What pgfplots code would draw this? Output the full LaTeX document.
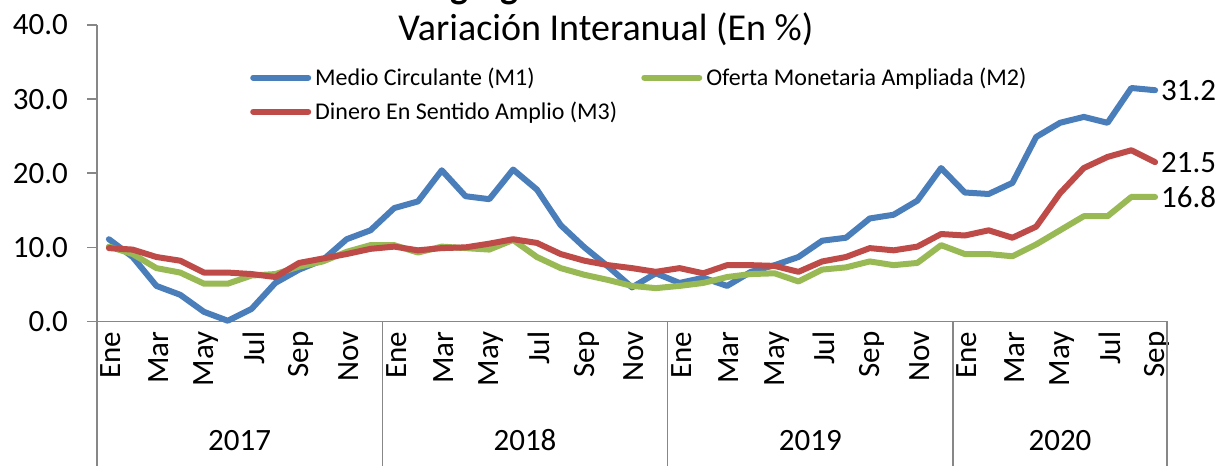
\documentclass[border=0pt]{standalone}
\usepackage{pgfplots}
\pgfplotsset{compat=1.18}
\usepackage{fontspec}
\setmainfont{Carlito}
\definecolor{m1}{HTML}{4A7EBB}
\definecolor{m2}{HTML}{98B954}
\definecolor{m3}{HTML}{BE4B48}
\definecolor{axgray}{HTML}{878787}
\begin{document}
\begin{tikzpicture}[x=1bp,y=1bp]
\begin{axis}[
  at={(97bp,144.5bp)}, anchor=south west,
  scale only axis, width=1070bp, height=296.5bp,
  xmin=-0.5, xmax=44.5, ymin=0, ymax=40,
  clip=false,
  axis lines=left,
  axis line style={draw=axgray, line width=1.6bp, -},
  tick align=outside,
  major tick length=10bp,
  tick style={draw=axgray, line width=1.6bp},
  ytick={0,10,20,30,40},
  yticklabels={0.0,10.0,20.0,30.0,40.0},
  yticklabel style={font=\fontsize{31bp}{37bp}\selectfont, inner sep=0pt, xshift=-19bp},
  xtick={0,2,...,44},
  xticklabels={Ene,Mar,May,Jul,Sep,Nov,Ene,Mar,May,Jul,Sep,Nov,Ene,Mar,May,Jul,Sep,Nov,Ene,Mar,May,Jul,Sep},
  xtick style={draw=none},
  xticklabel style={font=\fontsize{31bp}{37bp}\selectfont, rotate=90, anchor=east, inner xsep=0pt, inner ysep=0pt, yshift=-2bp},
  legend columns=2,
  legend cell align=left,
  legend style={at={(0.143,0.862)}, anchor=north west, draw=none, fill=none, inner sep=0pt,
    font=\fontsize{24bp}{28bp}\selectfont, row sep=11bp,
    nodes={inner ysep=2bp, inner xsep=4bp},
    /tikz/every even column/.append style={column sep=20bp}},
  legend image code/.code={\draw[#1] (0bp,0bp) -- (55bp,0bp);},
  every axis plot/.append style={line width=6bp, line join=round, line cap=round},
]
\draw[axgray, line width=1.6bp] (axis cs:-0.5,0) -- ++(0bp,-160bp);
\draw[axgray, line width=1.6bp] (axis cs:11.5,0) -- ++(0bp,-160bp);
\draw[axgray, line width=1.6bp] (axis cs:23.5,0) -- ++(0bp,-160bp);
\draw[axgray, line width=1.6bp] (axis cs:35.5,0) -- ++(0bp,-160bp);
\draw[axgray, line width=1.6bp] (axis cs:44.5,0) -- ++(0bp,-160bp);
\addplot[m1] coordinates {
(0,11.1) (1,8.7) (2,4.8) (3,3.6) (4,1.3) (5,0.1) (6,1.7) (7,5.2) (8,7.0) (9,8.3) (10,11.1) (11,12.3)
(12,15.3) (13,16.2) (14,20.4) (15,16.9) (16,16.5) (17,20.5) (18,17.8) (19,13.0) (20,10.0) (21,7.4) (22,4.6) (23,6.5)
(24,5.2) (25,5.9) (26,4.8) (27,6.7) (28,7.6) (29,8.7) (30,10.9) (31,11.3) (32,13.9) (33,14.4) (34,16.3) (35,20.7)
(36,17.4) (37,17.2) (38,18.7) (39,24.9) (40,26.8) (41,27.6) (42,26.8) (43,31.5) (44,31.2)};
\addlegendentry{Medio Circulante (M1)}
\addplot[m2] coordinates {
(0,10.1) (1,9.1) (2,7.2) (3,6.6) (4,5.1) (5,5.1) (6,6.2) (7,6.4) (8,7.4) (9,8.1) (10,9.4) (11,10.3)
(12,10.3) (13,9.3) (14,10.1) (15,9.9) (16,9.7) (17,11.0) (18,8.7) (19,7.2) (20,6.3) (21,5.6) (22,4.8) (23,4.5)
(24,4.8) (25,5.2) (26,6.0) (27,6.4) (28,6.5) (29,5.4) (30,7.0) (31,7.3) (32,8.1) (33,7.6) (34,7.9) (35,10.3)
(36,9.1) (37,9.1) (38,8.8) (39,10.4) (40,12.3) (41,14.2) (42,14.2) (43,16.8) (44,16.8)};
\addlegendentry{Oferta Monetaria Ampliada (M2)}
\addplot[m3] coordinates {
(0,9.9) (1,9.7) (2,8.7) (3,8.2) (4,6.6) (5,6.6) (6,6.4) (7,6.0) (8,7.9) (9,8.5) (10,9.1) (11,9.8)
(12,10.1) (13,9.6) (14,9.9) (15,10.0) (16,10.5) (17,11.1) (18,10.6) (19,9.1) (20,8.2) (21,7.6) (22,7.2) (23,6.7)
(24,7.2) (25,6.5) (26,7.6) (27,7.6) (28,7.5) (29,6.7) (30,8.1) (31,8.7) (32,9.9) (33,9.6) (34,10.1) (35,11.8)
(36,11.6) (37,12.3) (38,11.3) (39,12.8) (40,17.3) (41,20.7) (42,22.2) (43,23.1) (44,21.5)};
\addlegendentry{Dinero En Sentido Amplio (M3)}
\addplot[draw=none, forget plot, nodes near coords, point meta=explicit symbolic,
  nodes near coords style={anchor=west, inner sep=0pt, xshift=3bp, font=\fontsize{31bp}{37bp}\selectfont}]
  coordinates {(44,31.2) [31.2] (44,21.5) [21.5] (44,16.8) [16.8]};
\node[font=\fontsize{31bp}{37bp}\selectfont] at (axis cs:5.5,0) [yshift=-119bp] {2017};
\node[font=\fontsize{31bp}{37bp}\selectfont] at (axis cs:17.5,0) [yshift=-119bp] {2018};
\node[font=\fontsize{31bp}{37bp}\selectfont] at (axis cs:29.5,0) [yshift=-119bp] {2019};
\node[font=\fontsize{31bp}{37bp}\selectfont] at (axis cs:40,0) [yshift=-119bp] {2020};
\end{axis}
\node[anchor=base, font=\fontsize{38bp}{44bp}\selectfont] at (606,425.3) {Variación Interanual (En \%)};
\node[anchor=base, font=\fontsize{38bp}{44bp}\selectfont\bfseries] at (606,467) {Agregados Monetarios};
\pgfresetboundingbox
\path[use as bounding box] (0,0) rectangle (1221,466);
\end{tikzpicture}
\end{document}
